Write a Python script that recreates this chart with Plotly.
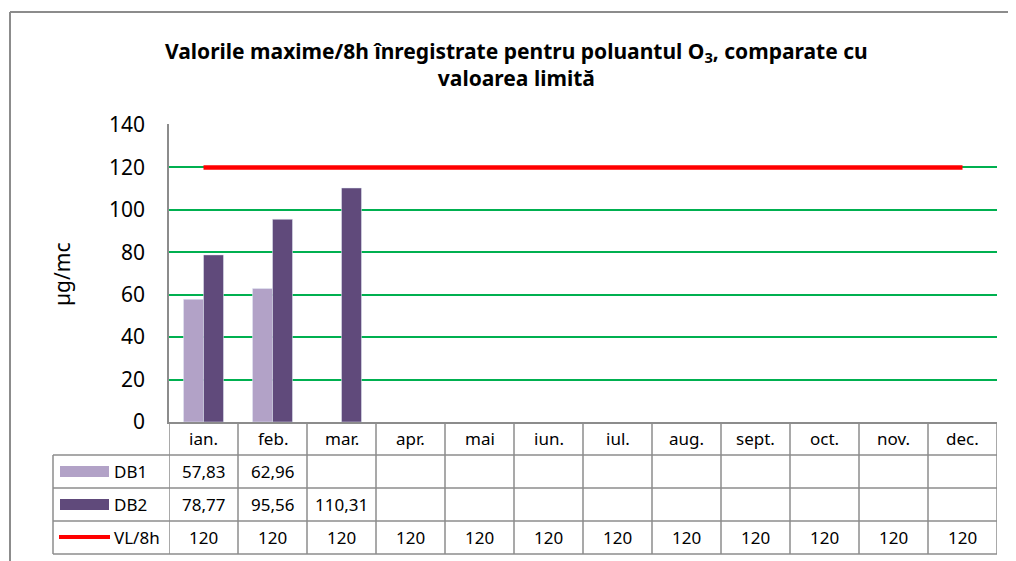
import plotly.graph_objects as go

months = ["ian.", "feb.", "mar.", "apr.", "mai", "iun.", "iul.", "aug.", "sept.", "oct.", "nov.", "dec."]
db1 = [57.83, 62.96, None, None, None, None, None, None, None, None, None, None]
db2 = [78.77, 95.56, 110.31, None, None, None, None, None, None, None, None, None]
vl = [120] * 12
y_ticks = [0, 20, 40, 60, 80, 100, 120, 140]

C_DB1 = "#B2A2C7"
C_DB2 = "#604A7B"
C_VL = "#FF0000"
C_GRID = "#00B050"
C_LINE = "#8C8C8C"
FONT = "Noto Sans"

# page shows the figure offset by the body margin (8 px)
OFF = 8
W, H = 1016 - OFF, 561 - OFF
REF_L, REF_R, REF_T, REF_B = 169, 997, 124, 422
ML, MT = REF_L - OFF, REF_T - OFF
MR = W - (REF_R - OFF)
MB = H - (REF_B - OFF)
PW = W - ML - MR
PH = H - MT - MB
Y_MAX = 140.47  # a hair above the top tick so its gridline is drawn


def px_x(px):
    return (px - REF_L) / PW


def px_y(py):
    return (REF_B - py) / PH


fig = go.Figure()
fig.add_trace(go.Bar(x=months, y=db1, name="DB1", marker=dict(color=C_DB1)))
fig.add_trace(go.Bar(x=months, y=db2, name="DB2", marker=dict(color=C_DB2)))
fig.add_trace(go.Scatter(x=months, y=vl, name="VL/8h", mode="lines",
                         line=dict(color=C_VL, width=4.5)))

shapes = []
annotations = []

row_edges = [422, 455, 488, 521, 554]
left_px = 53
for py in row_edges[1:]:
    shapes.append(dict(type="line", xref="paper", yref="paper",
                       x0=px_x(left_px), x1=1, y0=px_y(py), y1=px_y(py),
                       line=dict(color=C_LINE, width=1.5)))
shapes.append(dict(type="line", xref="paper", yref="paper",
                   x0=px_x(left_px), x1=px_x(left_px), y0=px_y(455), y1=px_y(554),
                   line=dict(color=C_LINE, width=1.5)))
for i in range(len(months) + 1):
    shapes.append(dict(type="line", xref="x", yref="paper",
                       x0=i - 0.5, x1=i - 0.5, y0=0, y1=px_y(554),
                       line=dict(color=C_LINE, width=1.5)))


def fmt(v):
    if v is None:
        return ""
    if float(v).is_integer():
        return str(int(v))
    return f"{v:.2f}".replace(".", ",")


TFONT = dict(size=17, color="#000", family=FONT)
row_centers = [(row_edges[k] + row_edges[k + 1]) / 2 for k in range(4)]
for i, m in enumerate(months):
    annotations.append(dict(x=m, y=px_y(row_centers[0]), xref="x", yref="paper",
                            text=m, showarrow=False, xanchor="center", yanchor="middle",
                            font=TFONT))
    for k, series in enumerate([db1, db2, vl]):
        t = fmt(series[i])
        if t:
            annotations.append(dict(x=m, y=px_y(row_centers[k + 1]), xref="x", yref="paper",
                                    text=t, showarrow=False, xanchor="center",
                                    yanchor="middle", font=TFONT))

labels = ["DB1", "DB2", "VL/8h"]
for k, lab in enumerate(labels):
    cy = row_centers[k + 1]
    annotations.append(dict(x=px_x(112), y=px_y(cy), xref="paper", yref="paper",
                            text=lab, showarrow=False, xanchor="left", yanchor="middle",
                            font=TFONT))
shapes.append(dict(type="rect", xref="paper", yref="paper", x0=px_x(60), x1=px_x(109),
                   y0=px_y(466), y1=px_y(477), fillcolor=C_DB1, line=dict(width=0)))
shapes.append(dict(type="rect", xref="paper", yref="paper", x0=px_x(60), x1=px_x(109),
                   y0=px_y(499), y1=px_y(510), fillcolor=C_DB2, line=dict(width=0)))
shapes.append(dict(type="line", xref="paper", yref="paper", x0=px_x(59), x1=px_x(110),
                   y0=px_y(537), y1=px_y(537), line=dict(color=C_VL, width=4)))

# outer chart border
shapes.append(dict(type="line", xref="paper", yref="paper", x0=px_x(10), x1=px_x(1030),
                   y0=px_y(12), y1=px_y(12), line=dict(color=C_LINE, width=2)))
shapes.append(dict(type="line", xref="paper", yref="paper", x0=px_x(10), x1=px_x(10),
                   y0=px_y(12), y1=px_y(580), line=dict(color=C_LINE, width=2)))

annotations.append(dict(x=px_x(62), y=px_y(274), xref="paper", yref="paper",
                        text="µg/mc", textangle=-90, showarrow=False,
                        xanchor="center", yanchor="middle",
                        font=dict(size=21, color="#000", family=FONT)))

annotations.append(dict(x=px_x(516), y=px_y(65), xref="paper", yref="paper",
                        text="<b>Valorile maxime/8h înregistrate pentru poluantul O<sub>3</sub>, comparate cu<br>valoarea limită</b>",
                        showarrow=False, xanchor="center", yanchor="middle",
                        font=dict(size=21, color="#000", family=FONT)))

fig.update_layout(
    width=W, height=H,
    margin=dict(l=ML, r=MR, t=MT, b=MB),
    paper_bgcolor="white", plot_bgcolor="white",
    font=dict(family=FONT, color="#000"),
    showlegend=False,
    barmode="group", bargap=0.42, bargroupgap=0,
    xaxis=dict(range=[-0.5, 11.5], showticklabels=False, showgrid=False,
               showline=True, linecolor=C_LINE, linewidth=1.5, ticks="", zeroline=False),
    yaxis=dict(range=[0, Y_MAX], tickvals=y_ticks, showgrid=True, gridcolor=C_GRID,
               gridwidth=2, zeroline=False, showline=True, linecolor=C_LINE,
               linewidth=1.5, ticks="", ticklabelstandoff=18,
               tickfont=dict(size=21, family=FONT, color="#000")),
    shapes=shapes,
    annotations=annotations,
)

fig.write_html("out.html")
